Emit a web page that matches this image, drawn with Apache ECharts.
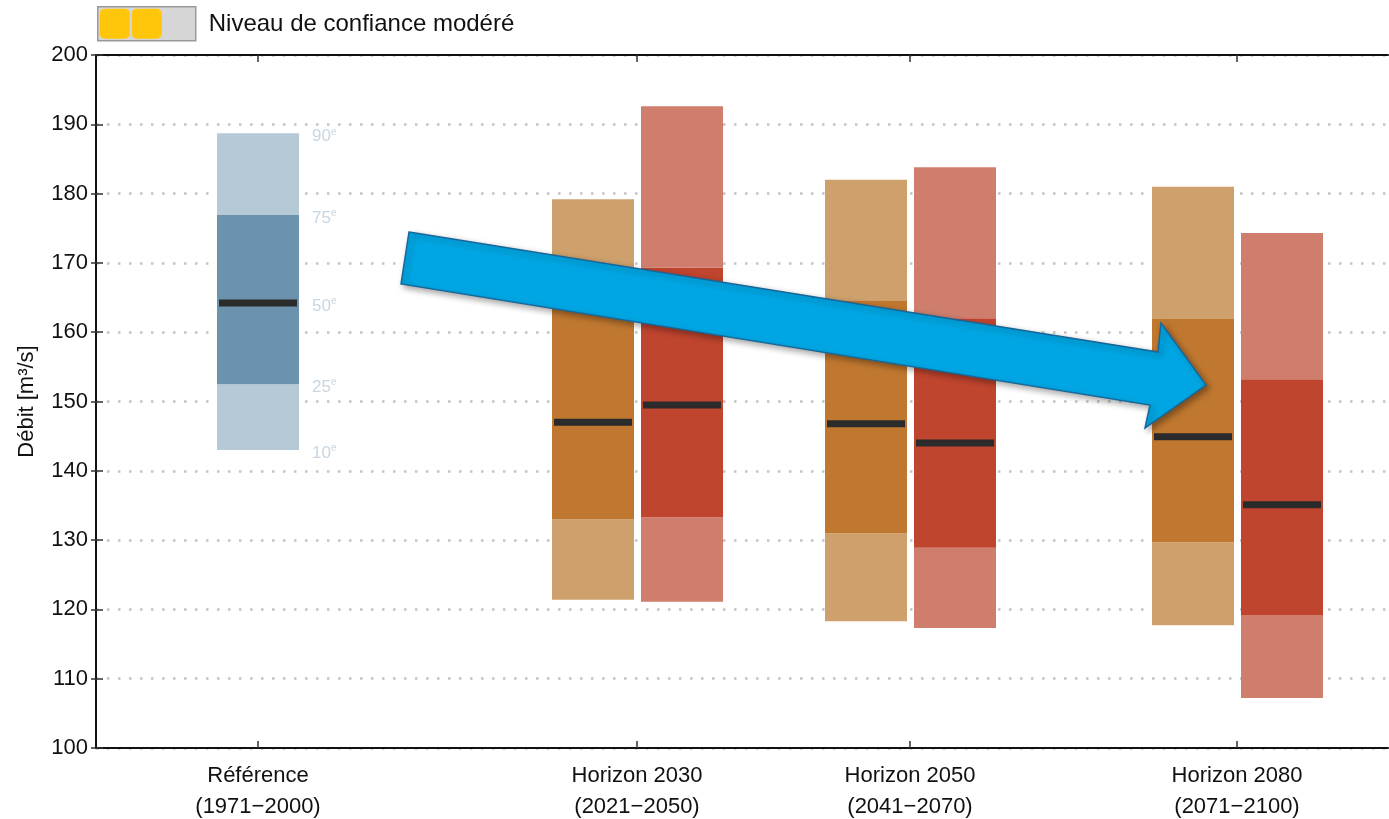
<!DOCTYPE html>
<html>
<head>
<meta charset="utf-8">
<script src="https://cdn.jsdelivr.net/npm/echarts@6/dist/echarts.min.js"></script>
<style>
  html, body { margin: 0; padding: 0; background: #fff; }
  #chart { width: 1389px; height: 819px; }
</style>
</head>
<body>
<div id="chart"></div>
<script>
// catégories de l'axe x et leur position (axes non équidistants)
const categories = ['Référence\n(1971−2000)', 'Horizon 2030\n(2021−2050)', 'Horizon 2050\n(2041−2070)', 'Horizon 2080\n(2071−2100)']
const categoryPos = [1.62, 5.41, 8.14, 11.41]

// période de référence : 10e, 25e, 50e, 75e, 90e centiles
const percentileNames = ['10', '25', '50', '75', '90']
const refValues = [143.0, 152.5, 164.2, 176.9, 188.7]

// scénario orange (horizons 2030, 2050, 2080)
const orangeP10 = [121.4, 118.3, 117.7]
const orangeP25 = [133.0, 131.0, 129.7]
const orangeP50 = [147.0, 146.8, 144.9]
const orangeP75 = [165.5, 164.6, 161.9]
const orangeP90 = [179.2, 182.0, 181.0]

// scénario rouge
const redP10 = [121.1, 117.3, 107.2]
const redP25 = [133.3, 128.9, 119.2]
const redP50 = [149.5, 144.0, 135.1]
const redP75 = [169.3, 162.0, 153.2]
const redP90 = [192.6, 183.8, 174.3]

// flèche de tendance (coordonnées en unités des axes)
const arrowX = [3.13, 10.62, 10.65, 11.10, 10.49, 10.54, 3.05]
const arrowY = [174.46, 157.14, 161.33, 152.38, 146.18, 149.49, 166.96]

const palette = {
  ref: ['#b6c9d7', '#6b93ad'],
  orange: ['#cea06b', '#c07830'],
  red: ['#cf7e6d', '#c0452f']
}
const barWidth = 0.82
const pairOffset = [-0.44, 0.45]

const boxData = []
boxData.push({ value: [categoryPos[0]].concat(refValues), kind: 'ref' })
for (let i = 0; i < 3; i++) {
  boxData.push({ value: [categoryPos[i + 1] + pairOffset[0], orangeP10[i], orangeP25[i], orangeP50[i], orangeP75[i], orangeP90[i]], kind: 'orange' })
  boxData.push({ value: [categoryPos[i + 1] + pairOffset[1], redP10[i], redP25[i], redP50[i], redP75[i], redP90[i]], kind: 'red' })
}

const chart = echarts.init(document.getElementById('chart'))
const font = '"Liberation Sans", Arial, sans-serif'

function renderBox (params, api) {
  const item = boxData[params.dataIndex]
  const x = api.value(0)
  const w = api.size([barWidth, 0])[0]
  const pts = [1, 2, 3, 4, 5].map(d => api.coord([x, api.value(d)]))
  const left = pts[0][0] - w / 2
  const cols = palette[item.kind]
  const children = [
    { type: 'rect', shape: { x: left, y: pts[1][1], width: w, height: pts[0][1] - pts[1][1] }, style: { fill: cols[0] } },
    { type: 'rect', shape: { x: left, y: pts[3][1], width: w, height: pts[1][1] - pts[3][1] }, style: { fill: cols[1] } },
    { type: 'rect', shape: { x: left, y: pts[4][1], width: w, height: pts[3][1] - pts[4][1] }, style: { fill: cols[0] } },
    { type: 'rect', shape: { x: left + 2, y: pts[2][1] - 3.5, width: w - 4, height: 7 }, style: { fill: '#2b2b2b' } }
  ]
  if (item.kind === 'ref') {
    pts.forEach((p, k) => {
      children.push({
        type: 'text',
        x: p[0] + w / 2 + 13,
        y: p[1] + 3,
        style: {
          text: '{n|' + percentileNames[k] + '}{s|e}',
          verticalAlign: 'middle',
          rich: {
            n: { fontFamily: font, fontSize: 17, fill: '#c8d6e2' },
            s: { fontFamily: font, fontSize: 10, fill: '#c8d6e2', verticalAlign: 'top', padding: [0, 0, 9, 0] }
          }
        }
      })
    })
  }
  return { type: 'group', children: children }
}

function renderArrow (params, api) {
  const points = arrowX.map((x, i) => api.coord([x, arrowY[i]]))
  return {
    type: 'polygon',
    shape: { points: points },
    style: {
      fill: '#00a6e3',
      stroke: '#16689a',
      lineWidth: 1.5,
      shadowBlur: 6,
      shadowOffsetX: 3,
      shadowOffsetY: 3,
      shadowColor: 'rgba(0,0,0,0.35)'
    }
  }
}

const option = {
  backgroundColor: '#fff',
  animation: false,
  grid: { left: 96, right: 1, top: 55, bottom: 71, outerBoundsMode: 'none', containLabel: false },
  xAxis: [
    {
      type: 'value',
      min: 0,
      max: 12.92,
      axisLine: { lineStyle: { color: '#111', width: 2 } },
      axisTick: { customValues: categoryPos, inside: true, length: 7, lineStyle: { color: '#333', width: 1.5 } },
      axisLabel: {
        customValues: categoryPos,
        formatter: v => {
          const i = categoryPos.findIndex(p => Math.abs(p - v) < 1e-6)
          return i >= 0 ? categories[i] : ''
        },
        color: '#111',
        fontFamily: font,
        fontSize: 22,
        lineHeight: 31,
        margin: 12
      },
      splitLine: { show: false }
    },
    {
      type: 'value',
      position: 'top',
      min: 0,
      max: 12.92,
      axisLine: { show: true, lineStyle: { color: '#111', width: 2 } },
      axisTick: { customValues: categoryPos, inside: true, length: 7, lineStyle: { color: '#333', width: 1.5 } },
      axisLabel: { show: false },
      splitLine: { show: false }
    }
  ],
  yAxis: [
    {
      type: 'value',
      min: 100,
      max: 200,
      interval: 10,
      name: 'Débit [m³/s]',
      nameLocation: 'middle',
      nameGap: 58,
      nameTextStyle: { color: '#111', fontFamily: font, fontSize: 22 },
      axisLine: { show: true, lineStyle: { color: '#111', width: 2 } },
      axisTick: { inside: true, length: 7, lineStyle: { color: '#333', width: 1.5 } },
      axisLabel: { color: '#111', fontFamily: font, fontSize: 22, margin: 8 },
      splitLine: { show: true, lineStyle: { color: '#c4c4c4', width: 2.5, type: [2.5, 8.5] } }
    },
    {
      type: 'value',
      position: 'right',
      min: 100,
      max: 200,
      interval: 10,
      axisLine: { show: true, lineStyle: { color: '#111', width: 2 } },
      axisTick: { inside: true, length: 5, lineStyle: { color: '#333', width: 1.5 } },
      axisLabel: { show: false },
      splitLine: { show: false }
    }
  ],
  series: [
    {
      type: 'custom',
      name: 'centiles',
      xAxisIndex: 0,
      yAxisIndex: 0,
      renderItem: renderBox,
      data: boxData,
      z: 3
    },
    {
      type: 'custom',
      name: 'tendance',
      xAxisIndex: 0,
      yAxisIndex: 0,
      renderItem: renderArrow,
      data: [[arrowX[0], arrowY[0]]],
      z: 10
    }
  ],
  graphic: [
    // légende du niveau de confiance
    {
      type: 'group',
      left: 97,
      top: 6,
      children: [
        { type: 'rect', shape: { x: 0, y: 0, width: 98, height: 34 }, style: { fill: '#d6d6d6', stroke: '#9a9a9a', lineWidth: 1.5 } },
        { type: 'rect', shape: { x: 2, y: 2, width: 30, height: 30, r: 5 }, style: { fill: '#ffc60b' } },
        { type: 'rect', shape: { x: 34, y: 2, width: 30, height: 30, r: 5 }, style: { fill: '#ffc60b' } },
        { type: 'text', x: 111, y: 18, style: { text: 'Niveau de confiance modéré', fontFamily: font, fontSize: 24, fill: '#111', verticalAlign: 'middle' } }
      ]
    }
  ]
}

chart.setOption(option)
</script>
</body>
</html>
